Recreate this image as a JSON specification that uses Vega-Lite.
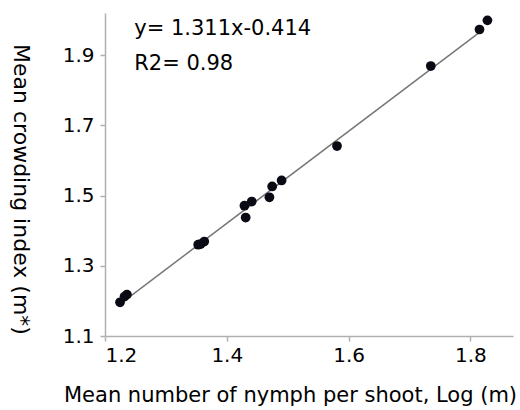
{
  "$schema": "https://vega.github.io/schema/vega-lite/v6.json",
  "autosize": {"type": "none"},
  "width": 408,
  "height": 323,
  "padding": {"left": 105, "top": 13, "right": 7, "bottom": 74},
  "background": "white",
  "config": {
    "view": {"stroke": null},
    "font": "DejaVu Sans",
    "axis": {
      "grid": false,
      "domainColor": "#b0b0b0",
      "domainWidth": 1.5,
      "tickColor": "#b0b0b0",
      "tickSize": 5,
      "tickWidth": 1.5,
      "labelColor": "#000000",
      "labelFontSize": 20,
      "titleColor": "#000000",
      "titleFontSize": 21,
      "titleFontWeight": "normal",
      "labelFont": "DejaVu Sans",
      "titleFont": "DejaVu Sans"
    }
  },
  "datasets": {
    "pts": [
      {"x": 1.2247, "y": 1.196},
      {"x": 1.232, "y": 1.212},
      {"x": 1.236, "y": 1.218},
      {"x": 1.353, "y": 1.360},
      {"x": 1.357, "y": 1.362},
      {"x": 1.363, "y": 1.369},
      {"x": 1.429, "y": 1.471},
      {"x": 1.431, "y": 1.4375},
      {"x": 1.441, "y": 1.483},
      {"x": 1.470, "y": 1.495},
      {"x": 1.4745, "y": 1.526},
      {"x": 1.490, "y": 1.543},
      {"x": 1.581, "y": 1.641},
      {"x": 1.735, "y": 1.869},
      {"x": 1.815, "y": 1.973},
      {"x": 1.828, "y": 1.999}
    ],
    "fit": [
      {"x": 1.23, "y": 1.198},
      {"x": 1.815, "y": 1.965}
    ],
    "labels": [
      {"x": 1.248, "y": 1.957, "t": "y= 1.311x-0.414"},
      {"x": 1.248, "y": 1.857, "t": "R2= 0.98"}
    ]
  },
  "layer": [
    {
      "data": {"name": "fit"},
      "mark": {"type": "line", "color": "#777777", "strokeWidth": 1.5},
      "encoding": {
        "x": {"field": "x", "type": "quantitative", "scale": {"domain": [1.2, 1.87], "nice": false, "zero": false},
          "axis": {"values": [1.2, 1.4, 1.6, 1.8], "format": ".1f", "title": "Mean number of nymph per shoot, Log (m)", "labelPadding": 4, "titleX": 185, "titleY": 59, "titleBaseline": "middle", "titleAnchor": "start", "titleAlign": "center"}},
        "y": {"field": "y", "type": "quantitative", "scale": {"domain": [1.1, 2.02], "nice": false, "zero": false},
          "axis": {"values": [1.1, 1.3, 1.5, 1.7, 1.9], "format": ".1f", "title": "Mean crowding index (m*)", "titleFontSize": 22, "labelPadding": 6, "titleAngle": 90, "titleX": -85, "titleY": 176, "titleAlign": "center", "titleBaseline": "middle"}}
      }
    },
    {
      "data": {"name": "pts"},
      "mark": {"type": "circle", "color": "#0a0a14", "opacity": 1, "size": 95},
      "encoding": {
        "x": {"field": "x", "type": "quantitative"},
        "y": {"field": "y", "type": "quantitative"}
      }
    },
    {
      "data": {"name": "labels"},
      "mark": {"type": "text", "align": "left", "baseline": "alphabetic", "fontSize": 21, "color": "#000000", "font": "DejaVu Sans"},
      "encoding": {
        "x": {"field": "x", "type": "quantitative"},
        "y": {"field": "y", "type": "quantitative"},
        "text": {"field": "t"}
      }
    }
  ]
}
